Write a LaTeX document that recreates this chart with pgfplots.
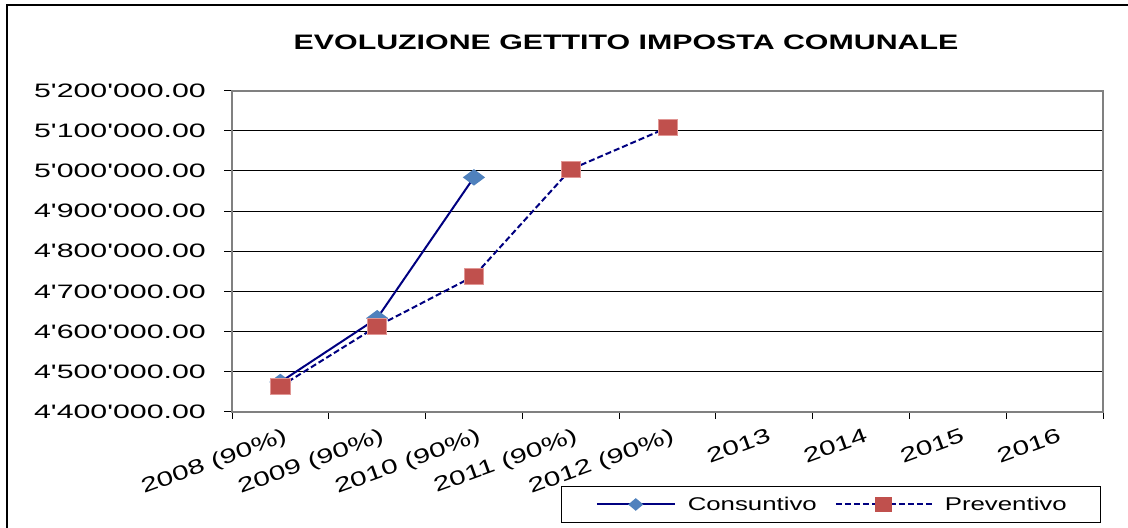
\documentclass[border=0pt]{standalone}
\usepackage{pgfplots}
\pgfplotsset{compat=1.18}
\usepackage{fontspec}
\newfontfamily\arial{Liberation Sans}[FakeStretch=1.4]
\newfontfamily\arialtick{Liberation Sans}[FakeStretch=1.56]
\newfontfamily\arialxtick{Liberation Sans}[FakeStretch=1.45]
\newfontfamily\arialtitle{Liberation Sans}[FakeStretch=1.45]
\definecolor{navy}{RGB}{0,0,128}
\definecolor{cblue}{RGB}{79,129,189}
\definecolor{cred}{RGB}{192,80,77}
\definecolor{cpink}{RGB}{225,150,148}
\begin{document}
\begin{tikzpicture}
\useasboundingbox (0,0) rectangle (1128bp,528bp);
\draw[line width=2.5bp] (7bp,-5bp) -- (7bp,523bp) -- (1135bp,523bp);
\node[font={\arialtitle\bfseries\fontsize{21}{24}\selectfont}] at (626bp,486bp) {EVOLUZIONE GETTITO IMPOSTA COMUNALE};
\begin{axis}[
  scale only axis, width=871bp, height=321bp,
  at={(232bp,116.3bp)}, anchor=south west,
  xmin=-0.5, xmax=8.5, ymin=4400000, ymax=5200000,
  scaled y ticks=false,
  ytick={4400000,4500000,4600000,4700000,4800000,4900000,5000000,5100000,5200000},
  yticklabels={4'400'000.00,4'500'000.00,4'600'000.00,4'700'000.00,4'800'000.00,4'900'000.00,5'000'000.00,5'100'000.00,5'200'000.00},
  xtick={0,1,2,3,4,5,6,7,8},
  xticklabels={2008 (90\%),2009 (90\%),2010 (90\%),2011 (90\%),2012 (90\%),2013,2014,2015,2016},
  minor xtick={-0.5,0.5,1.5,2.5,3.5,4.5,5.5,6.5,7.5,8.5},
  major x tick style={draw=none},
  xtick pos=bottom, ytick pos=left,
  tick align=outside,
  major tick length=8bp, minor tick length=7bp,
  tick style={black, line width=1bp},
  ymajorgrids, major grid style={black, line width=1bp},
  axis line style={draw=gray, line width=2bp},
  yticklabel style={font={\arialtick\fontsize{19.5}{20}\selectfont}, anchor=east, inner sep=0pt, xshift=-18bp},
  xticklabel style={font={\arialxtick\fontsize{20.5}{20}\selectfont}, rotate=20, anchor=north east, inner sep=0pt, xshift=0bp, yshift=-8bp},
  legend columns=2,
  legend style={at={(0.688,-0.289)}, anchor=center, draw=black, line width=1bp,
    inner xsep=34bp, inner ysep=11bp,
    font={\arial\fontsize{18.5}{20}\selectfont},
    nodes={inner sep=0pt},
    /tikz/every odd column/.append style={column sep=12bp},
    /tikz/every even column/.append style={column sep=18bp}},
]
\addplot[navy, line width=2bp, mark=diamond*, mark size=7bp,
  mark options={solid, fill=cblue, draw=cblue, xscale=1.8},
  legend image code/.code={\draw[navy, line width=2bp, mark=diamond*, mark size=5bp, mark options={solid, fill=cblue, draw=cblue, xscale=1.6}, mark repeat=2, mark phase=2] plot coordinates {(0bp,0bp) (39bp,0bp) (78bp,0bp)};}]
coordinates {(0,4474000) (1,4633000) (2,4984000)};
\addlegendentry{Consuntivo}
\addplot[navy, line width=2bp, dash pattern=on 6bp off 3bp, mark=square*, mark size=8bp,
  mark options={solid, fill=cred, draw=cpink, line width=0.8bp, xscale=1.19},
  legend image code/.code={\draw[navy, line width=2bp, dash pattern=on 6bp off 3bp, mark=square*, mark size=6.5bp, mark options={solid, fill=cred, draw=cred, xscale=1.15}, mark repeat=2, mark phase=2] plot coordinates {(0bp,0bp) (48bp,0bp) (96bp,0bp)};}]
coordinates {(0,4463000) (1,4613000) (2,4738000) (3,5004000) (4,5108000)};
\addlegendentry{Preventivo\hspace{19bp}}
\end{axis}
\end{tikzpicture}
\end{document}
